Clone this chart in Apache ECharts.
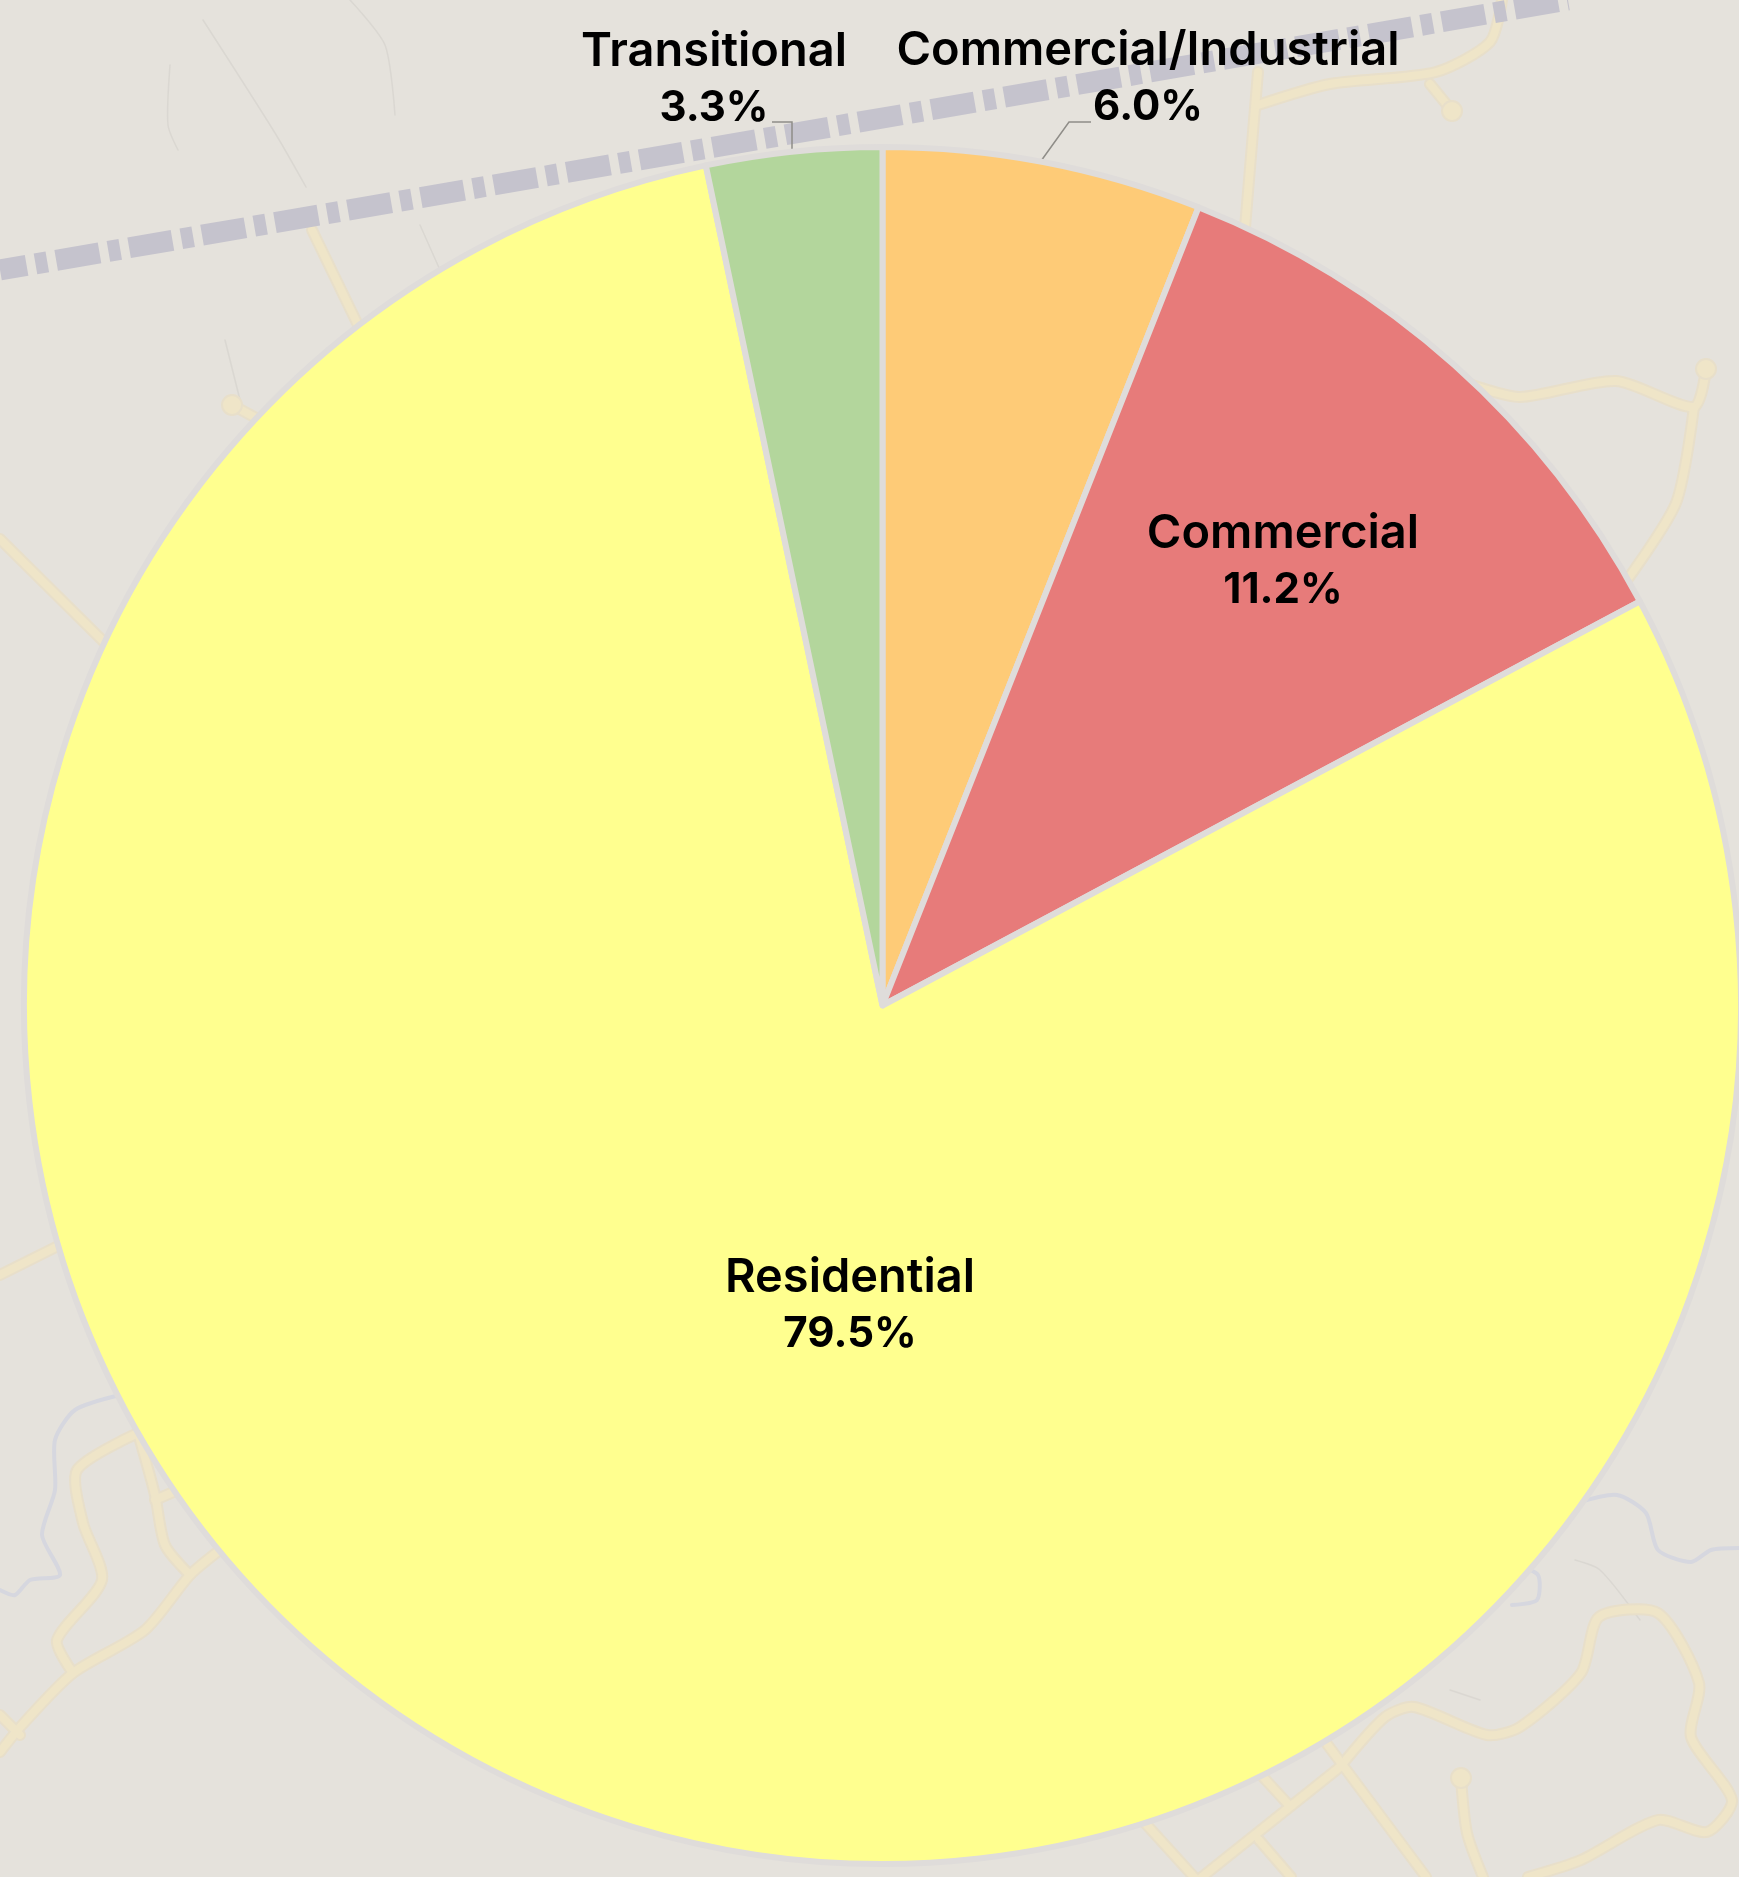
<!DOCTYPE html>
<html>
<head>
<meta charset="utf-8">
<style>
  html, body { margin: 0; padding: 0; background: #e5e2dc; }
  #landuse-pie { width: 1739px; height: 1877px; }
</style>
<script src="https://cdn.jsdelivr.net/npm/echarts@6/dist/echarts.min.js"></script>
</head>
<body>
<div id="landuse-pie"></div>
<script>
var categories = ['Commercial/Industrial', 'Commercial', 'Residential', 'Transitional'];
var shares = [6.0, 11.2, 79.5, 3.3];
var sliceColors = ['#fecb77', '#e77b7a', '#ffff8f', '#b3d69c'];

// where each label sits, same order as categories
var labelSpots = [
  { x: 1148, y: 79, line: [[1041, 161], [1069, 122], [1091, 122]] },
  { x: 1283, y: 562 },
  { x: 850, y: 1306 },
  { x: 714, y: 80, line: [[792, 150], [792, 122], [772, 122]] }
];

// faded base map behind the pie
var mapRoads = [
  [[312, 230], [358, 325]],
  [[232, 405], [258, 419]],
  [[1245, 228], [1258, 72]],
  [[1258, 105], [1330, 84], [1436, 72], [1490, 42], [1502, 0]],
  [[1430, 84], [1452, 111]],
  [[1466, 383], [1520, 397], [1616, 381], [1694, 407], [1706, 369]],
  [[1694, 407], [1676, 503], [1622, 587]],
  [[0, 539], [108, 646]],
  [[0, 1275], [60, 1245]],
  [[138, 1433], [77, 1470], [83, 1523], [102, 1580], [57, 1640], [73, 1673]],
  [[138, 1433], [155, 1495], [165, 1545], [190, 1575]],
  [[220, 1550], [190, 1575], [145, 1630], [73, 1673], [22, 1725], [0, 1752]],
  [[0, 1715], [20, 1735]],
  [[155, 1500], [178, 1490]],
  [[1340, 1767], [1385, 1717], [1414, 1707], [1487, 1735], [1520, 1727], [1581, 1673], [1599, 1617], [1658, 1613], [1699, 1683], [1691, 1737], [1732, 1800], [1707, 1832], [1658, 1820], [1581, 1860], [1528, 1877]],
  [[1340, 1767], [1202, 1877]],
  [[1324, 1740], [1426, 1877]],
  [[1263, 1777], [1287, 1803]],
  [[1145, 1823], [1194, 1877]],
  [[1259, 1840], [1291, 1877]],
  [[1461, 1778], [1467, 1833], [1483, 1877]]
];
var mapCircles = [[232, 405], [1452, 111], [1706, 369], [1461, 1778]];
var mapRivers = [
  [[120, 1395], [75, 1410], [55, 1440], [55, 1490], [42, 1535], [60, 1575], [30, 1580], [15, 1595], [0, 1590]],
  [[1577, 1503], [1617, 1495], [1646, 1513], [1658, 1550], [1691, 1562], [1711, 1550], [1739, 1548]],
  [[1515, 1565], [1538, 1575], [1537, 1600], [1512, 1605]]
];
var mapRidges = [
  [[203, 20], [275, 133], [306, 187]],
  [[170, 65], [168, 125], [178, 150]],
  [[350, 0], [385, 45], [395, 115]],
  [[420, 225], [440, 270]],
  [[225, 340], [240, 400]],
  [[1640, 1620], [1600, 1570], [1575, 1560]],
  [[1450, 1690], [1480, 1700]]
];
var railDash = [44, 9, 12, 9];

var background = [];
function addLines(list, color, width, opacity) {
  list.forEach(function (pts) {
    background.push({
      type: 'polyline',
      z: -2,
      shape: { points: pts, smooth: 0.25 },
      style: { stroke: color, lineWidth: width, fill: null, opacity: opacity, lineCap: 'round' }
    });
  });
}
addLines(mapRidges, '#d6d3cd', 1.5, 0.7);
addLines(mapRivers, '#d6d7df', 4, 1);
addLines(mapRoads, '#e8dfca', 12, 1);
addLines(mapRoads, '#efe5c8', 8, 1);
mapCircles.forEach(function (c) {
  background.push({
    type: 'circle',
    z: -2,
    shape: { cx: c[0], cy: c[1], r: 10 },
    style: { fill: '#efe5c8', stroke: '#e8dfca', lineWidth: 2 }
  });
});
background.push({
  type: 'line',
  z: -1,
  shape: { x1: 0, y1: 270, x2: 1568, y2: 0 },
  style: { stroke: '#c5c3cd', lineWidth: 21, lineDash: railDash, lineDashOffset: 17 }
});

var chart = echarts.init(document.getElementById('landuse-pie'));
chart.setOption({
  animation: false,
  backgroundColor: '#e5e2dc',
  graphic: background,
  series: [
    {
      type: 'pie',
      center: [882.5, 1005.5],
      radius: [0, 858.5],
      startAngle: 90,
      clockwise: true,
      avoidLabelOverlap: false,
      silent: true,
      itemStyle: { borderColor: '#dfdcda', borderWidth: 6 },
      label: {
        show: true,
        position: 'outside',
        color: '#000',
        fontFamily: 'Inter',
        fontWeight: 600,
        fontSize: 47,
        lineHeight: 56,
        align: 'center',
        formatter: function (p) {
          return '{name|' + p.name + '}\n{pct|' + p.value.toFixed(1) + '%}';
        },
        rich: {
          name: { fontFamily: 'Inter', fontWeight: 600, fontSize: 47, lineHeight: 56, color: '#000', align: 'center' },
          pct: { fontFamily: 'Inter', fontWeight: 700, fontSize: 42, lineHeight: 56, color: '#000', align: 'center' }
        }
      },
      labelLine: {
        show: true,
        lineStyle: { color: '#8f8d88', width: 1.5 }
      },
      labelLayout: function (p) {
        var spot = labelSpots[p.dataIndex];
        var res = { x: spot.x, y: spot.y, align: 'center', verticalAlign: 'middle' };
        if (spot.line) {
          res.labelLinePoints = spot.line;
        }
        return res;
      },
      data: categories.map(function (name, i) {
        var hasLine = !!labelSpots[i].line;
        return {
          name: name,
          value: shares[i],
          itemStyle: { color: sliceColors[i] },
          labelLine: { show: hasLine }
        };
      })
    }
  ]
});
</script>
</body>
</html>
